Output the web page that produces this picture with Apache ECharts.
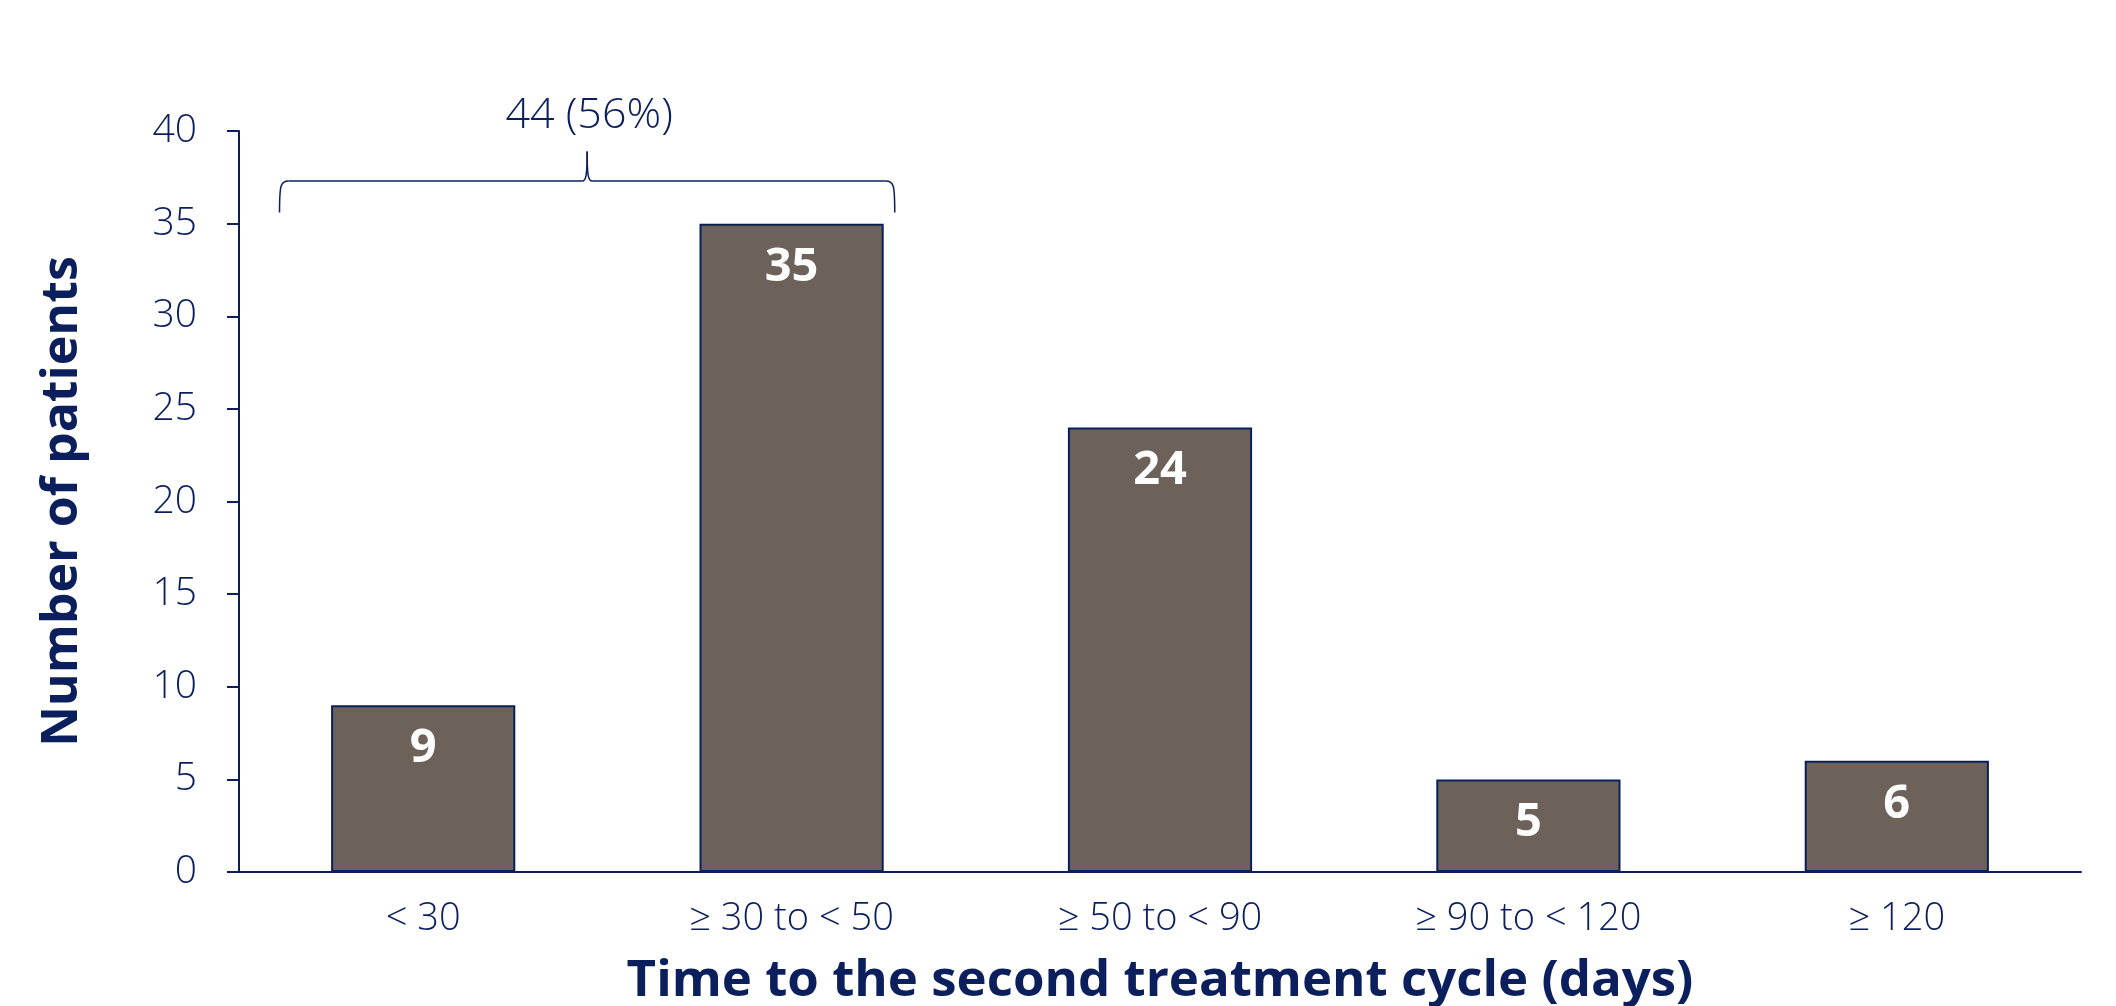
<!DOCTYPE html>
<html>
<head>
<meta charset="utf-8">
<title>Time to the second treatment cycle</title>
<script src="https://cdn.jsdelivr.net/npm/echarts@6/dist/echarts.min.js"></script>
<style>
  html, body { margin: 0; padding: 0; background: #ffffff; }
  #chart { width: 2116px; height: 1006px; }
</style>
</head>
<body>
<div id="chart"></div>
<script>
// Patient counts by time to the second treatment cycle
const categories = ['< 30', '\u2265 30 to < 50', '\u2265 50 to < 90', '\u2265 90 to < 120', '\u2265 120'];
const patients = [9, 35, 24, 5, 6];
const yTicks = [0, 5, 10, 15, 20, 25, 30, 35, 40];

// The brace groups the first two intervals (under 50 days)
const bracedCategories = [0, 1];

const NAVY = '#0b1f5c';
const BAR = '#6d6259';
const FONT = '"Open Sans", "Noto Sans", "DejaVu Sans", sans-serif';

const chart = echarts.init(document.getElementById('chart'), null, { renderer: 'canvas' });

chart.setOption({
  backgroundColor: '#ffffff',
  animation: false,
  grid: {
    left: 239, right: 35, top: 131, bottom: 134,
    containLabel: false,
    outerBoundsMode: 'none'
  },
  xAxis: {
    type: 'category',
    data: categories,
    axisLine: { show: true, lineStyle: { color: NAVY, width: 2 } },
    axisTick: { show: false },
    axisLabel: { color: NAVY, fontFamily: FONT, fontSize: 38, fontWeight: 300, margin: 28 },
    name: 'Time to the second treatment cycle (days)',
    nameLocation: 'middle',
    nameGap: 84,
    nameTextStyle: { color: NAVY, fontFamily: FONT, fontSize: 51, fontWeight: 'bold' }
  },
  yAxis: {
    type: 'value',
    min: yTicks[0],
    max: yTicks[yTicks.length - 1],
    interval: yTicks[1] - yTicks[0],
    axisLine: { show: true, lineStyle: { color: NAVY, width: 2 } },
    axisTick: { show: true, inside: false, length: 12, lineStyle: { color: NAVY, width: 2 } },
    splitLine: { show: false },
    axisLabel: { color: NAVY, fontFamily: FONT, fontSize: 39, fontWeight: 300, margin: 42 },
    name: 'Number of patients',
    nameLocation: 'middle',
    nameGap: 151,
    nameTextStyle: { color: NAVY, fontFamily: FONT, fontSize: 50, fontWeight: 'bold' }
  },
  series: [{
    type: 'bar',
    data: patients,
    barWidth: '50%',
    itemStyle: { color: BAR, borderColor: NAVY, borderWidth: 2 },
    label: {
      show: true,
      position: 'insideTop',
      distance: 20,
      color: '#ffffff',
      fontFamily: FONT,
      fontSize: 47,
      fontWeight: 'bold'
    }
  }]
});

// Curly brace above the first two bars, with the combined count and share
function drawBrace() {
  const total = patients.reduce((a, b) => a + b, 0);
  const count = bracedCategories.reduce((s, i) => s + patients[i], 0);
  const share = Math.round(count / total * 100);

  const c0 = chart.convertToPixel({ xAxisIndex: 0 }, categories[bracedCategories[0]]);
  const c1 = chart.convertToPixel({ xAxisIndex: 0 }, categories[bracedCategories[bracedCategories.length - 1]]);
  const band = c1 - c0 || 368;
  const xL = c0 - 0.39 * band;
  const xR = c1 + 0.28 * band;
  const xM = (xL + xR) / 2;
  const yFoot = chart.convertToPixel({ yAxisIndex: 0 }, 35.6);
  const yBar = chart.convertToPixel({ yAxisIndex: 0 }, 37.3);
  const yTip = chart.convertToPixel({ yAxisIndex: 0 }, 38.9);
  const yText = chart.convertToPixel({ yAxisIndex: 0 }, 40.8);

  const stroke = { stroke: NAVY, lineWidth: 1.5, fill: null };
  const r = 9;
  const elems = [
    { type: 'bezierCurve', shape: { x1: xL, y1: yFoot, cpx1: xL, cpy1: yBar + 4, cpx2: xL + 1, cpy2: yBar, x2: xL + r, y2: yBar }, style: stroke },
    { type: 'line', shape: { x1: xL + r, y1: yBar, x2: xM - 5, y2: yBar }, style: stroke },
    { type: 'bezierCurve', shape: { x1: xM - 5, y1: yBar, cpx1: xM - 1, cpy1: yBar, cpx2: xM, cpy2: yBar - 6, x2: xM, y2: yTip }, style: stroke },
    { type: 'bezierCurve', shape: { x1: xM, y1: yTip, cpx1: xM, cpy1: yBar - 6, cpx2: xM + 1, cpy2: yBar, x2: xM + 5, y2: yBar }, style: stroke },
    { type: 'line', shape: { x1: xM + 5, y1: yBar, x2: xR - r, y2: yBar }, style: stroke },
    { type: 'bezierCurve', shape: { x1: xR - r, y1: yBar, cpx1: xR - 1, cpy1: yBar, cpx2: xR, cpy2: yBar + 4, x2: xR, y2: yFoot }, style: stroke },
    {
      type: 'text',
      x: xM + 2,
      y: yText,
      style: {
        text: count + ' (' + share + '%)',
        fill: NAVY,
        font: '300 43px ' + FONT,
        textAlign: 'center',
        textVerticalAlign: 'middle'
      }
    }
  ];
  chart.setOption({ graphic: elems });
}

drawBrace();
</script>
</body>
</html>
